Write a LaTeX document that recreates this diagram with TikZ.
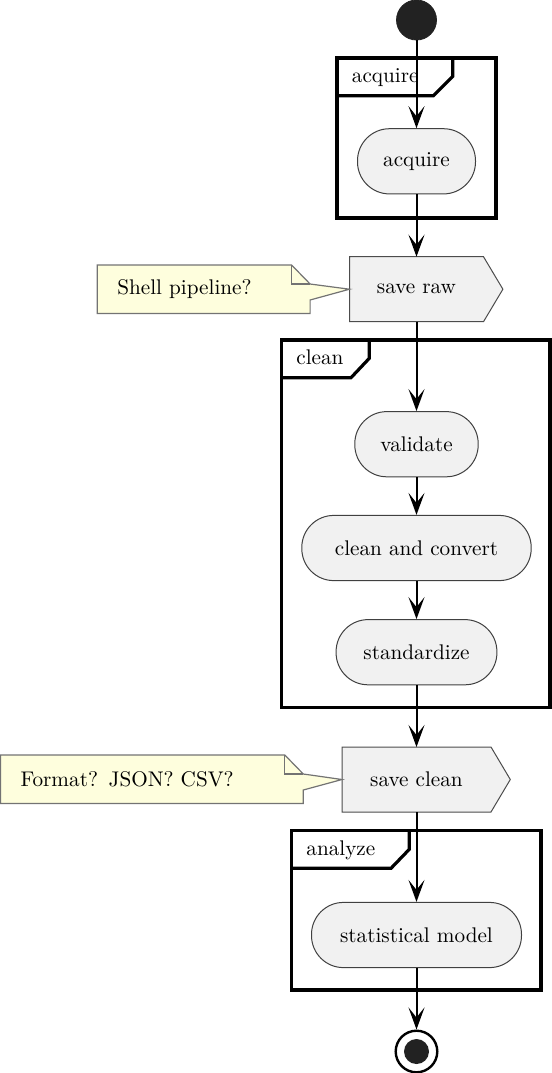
\documentclass[tikz,border=0pt]{standalone}
\usepackage{tikz}
\usetikzlibrary{arrows.meta,calc,backgrounds}
\definecolor{actfill}{RGB}{241,241,241}
\definecolor{notefill}{RGB}{254,254,221}
\definecolor{dotfill}{RGB}{34,34,34}

\begin{document}
\begin{tikzpicture}[x=0.5pt,y=-0.5pt,
    every node/.style={font=\fontsize{10.6pt}{12.7pt}\selectfont},
    action/.style={draw=black!75,line width=0.5pt,fill=actfill,rounded corners=16pt,minimum height=32.6pt,inner xsep=0pt},
    savebox/.style={inner sep=0pt,outer sep=0pt,minimum height=32.5pt},
    saveline/.style={draw=black!70,line width=0.5pt,fill=actfill},
    notebox/.style={inner xsep=10pt,inner ysep=0pt,outer sep=0pt,minimum height=24.2pt,align=left},
    noteline/.style={draw=black!55,line width=0.6pt,fill=notefill},
    group/.style={line width=1.6pt},
    flow/.style={-{Stealth[length=11pt,width=8pt,inset=5pt]},line width=1pt}]
    \useasboundingbox (0,0) rectangle (552,1073);

    % activities
    \node[circle,fill=dotfill,draw=dotfill,minimum size=20pt,inner sep=0pt] (start) at (416.5,20) {};
    \node[action,minimum width=59pt] (acquire) at (416.5,161.3) {acquire};
    \node[savebox,minimum width=67pt] (raw) at (416.5,289.2) {save raw};
    \node[action,minimum width=61.7pt] (validate) at (416.5,444.2) {validate};
    \node[action,minimum width=114.7pt] (convert) at (416.5,548) {clean and convert};
    \node[action,minimum width=80.4pt] (standardize) at (416.5,652.2) {standardize};
    \node[savebox,minimum width=74.5pt] (saveclean) at (416.5,779.5) {save clean};
    \node[action,minimum width=105pt] (model) at (416.5,935) {statistical model};
    \node[circle,draw,line width=1.2pt,minimum size=20.8pt,inner sep=0pt] (stop) at (416.5,1051.5) {};
    \node[circle,fill=dotfill,minimum size=12.5pt,inner sep=0pt] (stopdot) at (stop) {};

    % notes
    \node[notebox,text width=86.4pt] (note1) at (203.7,289.2) {Shell pipeline?};
    \node[notebox,text width=131.4pt] (note2) at (151.9,779.2) {Format? JSON? CSV?};

    % group labels
    \node[anchor=base west,inner sep=0pt] (gacquire) at (351.5,82.7) {acquire};
    \node[anchor=base west,inner sep=0pt] (gclean) at (296,364.8) {clean};
    \node[anchor=base west,inner sep=0pt] (ganalyze) at (306,855.8) {analyze};

    \begin{scope}[on background layer]
        % groups
        \draw[group] (337,58) rectangle (496,218);
        \draw[group] (337,95.7) -- (433.3,95.7) -- (452.7,76.5) -- (452.7,58);
        \draw[group] (281.7,340) rectangle (550,707.3);
        \draw[group] (281.7,377.7) -- (351,377.7) -- (369.3,358.3) -- (369.3,340);
        \draw[group] (291.7,830.7) rectangle (541,990);
        \draw[group] (291.7,868.3) -- (391,868.3) -- (409.3,849.3) -- (409.3,830.7);

        % save boxes
        \draw[saveline] (raw.north west) -- (raw.north east) -- ($(raw.east)+(19.4,0)$) -- (raw.south east) -- (raw.south west) -- cycle;
        \draw[saveline] (saveclean.north west) -- (saveclean.north east) -- ($(saveclean.east)+(19.3,0)$) -- (saveclean.south east) -- (saveclean.south west) -- cycle;

        % note outlines
        \draw[noteline] (note1.north west) -- ($(note1.north east)+(-18.5,0)$) -- ($(note1.north east)+(0,19)$) -- ($(note1.east)+(0,-5.2)$) -- (raw.west) -- ($(note1.east)+(0,10.8)$) -- (note1.south east) -- (note1.south west) -- cycle;
        \draw[noteline,fill=none] ($(note1.north east)+(-18.5,0)$) -- ++(0,19) -- ++(18.5,0);
        \draw[noteline] (note2.north west) -- ($(note2.north east)+(-18.5,0)$) -- ($(note2.north east)+(0,19)$) -- ($(note2.east)+(0,-5.2)$) -- (saveclean.west) -- ($(note2.east)+(0,10.8)$) -- (note2.south east) -- (note2.south west) -- cycle;
        \draw[noteline,fill=none] ($(note2.north east)+(-18.5,0)$) -- ++(0,19) -- ++(18.5,0);
    \end{scope}

    % flow
    \draw[flow] (start) -- (acquire);
    \draw[flow] (acquire) -- (raw);
    \draw[flow] (raw) -- (validate);
    \draw[flow] (validate) -- (convert);
    \draw[flow] (convert) -- (standardize);
    \draw[flow] (standardize) -- (saveclean);
    \draw[flow] (saveclean) -- (model);
    \draw[flow] (model) -- (stop);
\end{tikzpicture}
\end{document}
